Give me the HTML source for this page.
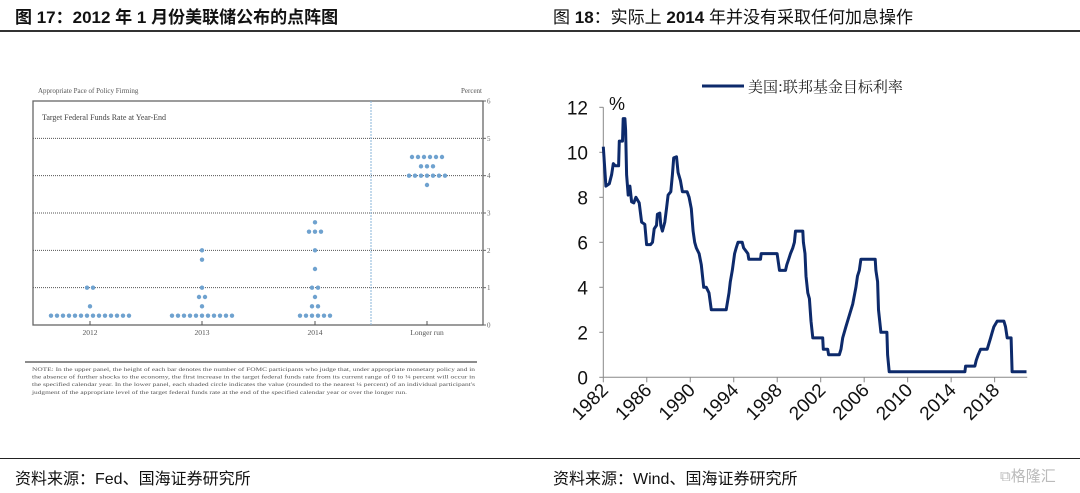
<!DOCTYPE html>
<html><head><meta charset="utf-8">
<style>
body{margin:0;width:1080px;height:493px;background:#fff;overflow:hidden;position:relative;font-family:"Liberation Sans","Noto Sans CJK SC",sans-serif}
.t{position:absolute;white-space:nowrap}
</style></head><body>
<div class="t" style="left:15px;top:3px;font-size:17px;font-weight:bold;color:#111">图 17：2012 年 1 月份美联储公布的点阵图</div>
<div class="t" style="left:553px;top:3px;font-size:17px;color:#111">图 <b>18</b>：实际上 <b>2014</b> 年并没有采取任何加息操作</div>
<div style="position:absolute;left:0;top:30px;width:1080px;height:2px;background:#333"></div>
<div style="position:absolute;left:0;top:458px;width:1080px;height:1px;background:#222"></div>
<div class="t" style="left:15px;top:465px;font-size:16px;color:#111">资料来源：Fed、国海证券研究所</div>
<div class="t" style="left:553px;top:465px;font-size:16px;color:#111">资料来源：Wind、国海证券研究所</div>
<div class="t" style="left:1000px;top:465px;font-size:15px;color:#bbb">⧉格隆汇</div>

<svg id="left" width="540" height="460" style="position:absolute;left:0;top:0" font-family="Liberation Serif,serif"></svg>
<svg id="right" width="540" height="460" style="position:absolute;left:540px;top:0" font-family="Liberation Sans,sans-serif"></svg>

<script>
// ---- dot plot data ----
const dotCats = ["2012","2013","2014","Longer run"];
const dotRates = [
 [0.25,0.5,1],
 [0.25,0.5,0.75,1,1.75,2],
 [0.25,0.5,0.75,1,1.5,2,2.5,2.75],
 [3.75,4,4.25,4.5]];
const dotCounts = [
 [14,1,2],
 [11,1,2,1,1,1],
 [6,2,1,2,1,1,3,1],
 [1,7,3,6]];
const dotTicks = [0,1,2,3,4,5,6];

// ---- fed funds data ----
const ffYears = [1982.00,1982.24,1982.55,1982.76,1982.92,1983.10,1983.41,1983.47,1983.77,1983.83,1983.99,1984.05,1984.14,1984.29,1984.45,1984.60,1984.81,1985.00,1985.30,1985.52,1985.82,1985.98,1986.34,1986.53,1986.68,1986.89,1986.98,1987.20,1987.29,1987.44,1987.66,1987.81,1987.96,1988.21,1988.36,1988.48,1988.73,1988.88,1989.09,1989.28,1989.71,1989.89,1990.10,1990.26,1990.41,1990.56,1990.81,1991.02,1991.24,1991.48,1991.72,1991.94,1993.31,1993.56,1993.68,1993.87,1994.08,1994.23,1994.39,1994.78,1994.91,1995.30,1995.39,1996.46,1996.53,1997.99,1998.21,1998.76,1998.88,1999.06,1999.22,1999.43,1999.58,1999.68,2000.35,2000.41,2000.56,2000.65,2000.81,2000.96,2001.11,2001.27,2002.18,2002.24,2002.64,2002.73,2003.71,2003.87,2004.02,2004.32,2004.63,2004.94,2005.24,2005.39,2005.55,2005.70,2007.01,2007.08,2007.23,2007.32,2007.54,2008.09,2008.15,2008.30,2015.27,2015.33,2016.19,2016.31,2016.49,2016.71,2017.32,2017.47,2017.63,2017.78,2017.93,2018.24,2018.85,2019.00,2019.16,2019.52,2019.61,2020.93];
const ffRates = [10.25,8.5,8.6,9.0,9.5,9.4,9.4,10.5,10.5,11.5,11.5,11,9,8.1,8.5,7.8,7.75,8.0,7.75,6.9,6.8,5.9,5.9,6.0,6.6,6.75,7.25,7.3,6.75,6.5,6.9,7.5,8.1,8.25,9.0,9.75,9.8,9.1,8.75,8.25,8.25,8.0,7.5,6.5,6.0,5.75,5.5,5.0,4.0,4.0,3.75,3.0,3.0,3.75,4.25,4.75,5.5,5.75,6.0,6.0,5.75,5.5,5.25,5.25,5.5,5.5,4.75,4.75,5.0,5.25,5.5,5.75,6.0,6.5,6.5,6.0,5.5,4.5,3.75,3.5,2.5,1.75,1.75,1.25,1.25,1.0,1.0,1.25,1.75,2.25,2.75,3.25,4.0,4.5,4.75,5.25,5.25,4.75,4.25,3.0,2.0,2.0,1.0,0.25,0.25,0.5,0.5,0.75,1.0,1.25,1.25,1.5,1.75,2.0,2.25,2.5,2.5,2.25,1.75,1.75,0.25,0.25];
const ffYTicks = [0,2,4,6,8,10,12];
const ffXTicks = [1982,1986,1990,1994,1998,2002,2006,2010,2014,2018];

const NS="http://www.w3.org/2000/svg";
function mk(svg,tag,attrs,txt){const e=document.createElementNS(NS,tag);for(const k in attrs)e.setAttribute(k,attrs[k]);if(txt!==undefined)e.textContent=txt;svg.appendChild(e);return e;}

// ===== left dot plot =====
(function(){
 const s=document.getElementById('left');
 const L=33,R=483,T=101,B=325;
 const yS=v=>B-(v/6)*(B-T);
 const catX=[90,202,315,427];
 let e;
 e=mk(s,'text',{x:38,y:93,'font-size':7,fill:'#555'},'Appropriate Pace of Policy Firming');
 
 e=mk(s,'text',{x:482,y:93,'font-size':7,fill:'#555','text-anchor':'end'},'Percent');
 
 e=mk(s,'text',{x:42,y:120,'font-size':8,fill:'#444'},'Target Federal Funds Rate at Year-End');
 
 dotTicks.forEach(v=>{
  if(v>0&&v<6){e=mk(s,'line',{x1:L,x2:R,y1:yS(v),y2:yS(v),stroke:'#555','stroke-width':1,'stroke-dasharray':'1,1'});
   }
  mk(s,'line',{x1:R,x2:R+3,y1:yS(v),y2:yS(v),stroke:'#666'});
  e=mk(s,'text',{x:R+4,y:yS(v)+2.5,'font-size':7,fill:'#666'},String(v));
  
 });
 e=mk(s,'rect',{x:L,y:T,width:R-L,height:B-T,fill:'none',stroke:'#666','stroke-width':1.3});
 
 e=mk(s,'line',{x1:371,x2:371,y1:T,y2:B,stroke:'#8ab4d8','stroke-dasharray':'2,1'});
 
 dotCats.forEach((c,i)=>{
  mk(s,'line',{x1:catX[i],x2:catX[i],y1:B-4,y2:B,stroke:'#555'});
  e=mk(s,'text',{x:catX[i],y:B+10,'font-size':7.5,fill:'#555','text-anchor':'middle'},c);
  
  dotRates[i].forEach((r,j)=>{
   const n=dotCounts[i][j];
   for(let k=0;k<n;k++){
    const d=mk(s,'circle',{cx:catX[i]+(k-(n-1)/2)*6,cy:yS(r),r:2.2,fill:'#6fa2cf'});
    
    
   }
  });
 });
 e=mk(s,'line',{x1:25,x2:477,y1:362,y2:362,stroke:'#666','stroke-width':1.5});
 
 const notes=["NOTE: In the upper panel, the height of each bar denotes the number of FOMC participants who judge that, under appropriate monetary policy and in",
 "the absence of further shocks to the economy, the first increase in the target federal funds rate from its current range of 0 to ¼ percent will occur in",
 "the specified calendar year.  In the lower panel, each shaded circle indicates the value (rounded to the nearest ¼ percent) of an individual participant's",
 "judgment of the appropriate level of the target federal funds rate at the end of the specified calendar year or over the longer run."];
 notes.forEach((t,i)=>{e=mk(s,'text',{x:32,y:371+i*7.6,'font-size':5.4,fill:'#555',textLength:i==3?375:443,lengthAdjust:'spacingAndGlyphs'},t);
  });
})();

// ===== right line chart =====
(function(){
 const s=document.getElementById('right');
 const x0=63.3, pxYr=10.87, y0=377.3, pxU=22.5;
 const xS=y=>x0+(y-1982)*pxYr, yS=v=>y0-v*pxU;
 let e;
 e=mk(s,'line',{x1:162,x2:204,y1:86,y2:86,stroke:'#0d2a6b','stroke-width':3});
 
 e=mk(s,'text',{x:208,y:92,'font-size':15,fill:'#222','font-family':'Noto Serif CJK SC,serif'},'美国:联邦基金目标利率');
 
 e=mk(s,'text',{x:69,y:110,'font-size':18,fill:'#111'},'%');
 
 mk(s,'line',{x1:x0,x2:x0,y1:yS(12),y2:y0,stroke:'#888'});
 mk(s,'line',{x1:x0,x2:xS(2021),y1:y0,y2:y0,stroke:'#888'});
 ffYTicks.forEach(v=>{
  mk(s,'line',{x1:x0-4,x2:x0,y1:yS(v),y2:yS(v),stroke:'#888'});
  e=mk(s,'text',{x:48,y:yS(v)+7,'font-size':19,fill:'#111','text-anchor':'end'},String(v));
  
 });
 ffXTicks.forEach(y=>{
  const x=xS(y);
  mk(s,'line',{x1:x,x2:x,y1:y0,y2:y0+5,stroke:'#888'});
  e=mk(s,'text',{x:x+6,y:y0+14,'font-size':19,fill:'#111','text-anchor':'end',transform:`rotate(-45 ${x+6} ${y0+14})`},String(y));
  
 });
 const pts=ffYears.map((y,i)=>xS(y).toFixed(1)+','+yS(ffRates[i]).toFixed(1)).join(' ');
 e=mk(s,'polyline',{points:pts,fill:'none',stroke:'#0d2a6b','stroke-width':3,'stroke-linejoin':'round'});
 
})();
</script>
</body></html>
